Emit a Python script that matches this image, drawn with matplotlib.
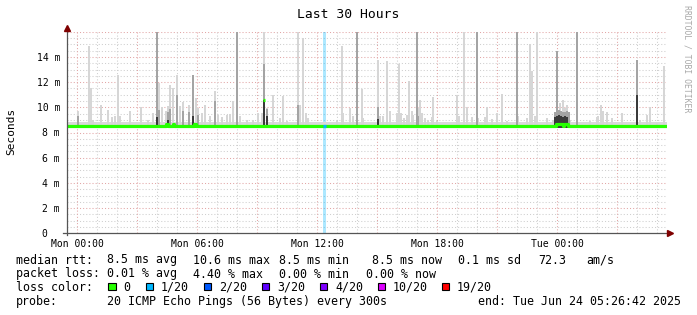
import numpy as np
import matplotlib
matplotlib.use("Agg")
import matplotlib.pyplot as plt
from matplotlib.patches import Rectangle

# ---------------- data (hours relative to Mon 00:00, values in ms) ----------------
x_start, x_end = -0.53, 29.47
y_max = 16.0
median_base = 8.5
smoke_lo, smoke_hi = 8.35, 8.85

light_h = [0.02, 0.6, 0.7, 0.8, 1.18, 1.52, 1.72, 1.88, 2.02, 2.13, 2.63, 3.18, 3.52, 3.77, 3.97,
           4.1, 4.22, 4.43, 4.55, 4.64, 4.8, 4.97, 5.13, 5.3, 5.58, 5.8, 5.92, 6.05, 6.22, 6.385,
           6.635, 6.885, 7.05, 7.22, 7.47, 7.635, 7.8, 7.97, 8.135, 8.47, 8.8, 9.05, 9.22, 9.35,
           9.47, 9.8, 10.135, 10.3, 10.47, 11.05, 11.135, 11.3, 11.42, 11.55, 12.97, 13.22, 13.3,
           13.635, 13.8, 13.97, 14.22, 14.3, 14.885, 15.02, 15.135, 15.3, 15.47, 15.635, 15.97,
           16.1, 16.185, 16.35, 16.47, 16.6, 16.72, 16.8, 16.97, 17.05, 17.135, 17.25, 17.385,
           17.55, 17.72, 17.8, 17.97, 18.97, 19.085, 19.35, 19.47, 19.72, 19.97, 20.05, 20.385,
           20.47, 20.72, 20.97, 21.22, 21.47, 21.97, 22.05, 22.47, 22.635, 22.72, 22.885, 22.97,
           23.47, 23.8, 24.0, 24.135, 24.3, 24.385, 24.47, 24.635, 24.97, 25.635, 25.97, 26.05,
           26.185, 26.3, 26.47, 26.72, 27.22, 27.97, 28.135, 28.47, 28.635, 28.97, 29.35]
light_v = [9.68, 14.84, 11.5, 9.0, 10.2, 9.82, 9.2, 9.28, 12.6, 9.28, 9.68, 10.02, 9.02, 9.55, 16.0,
           11.9, 10.0, 9.68, 10.07, 11.8, 11.5, 12.6, 10.07, 10.42, 10.2, 12.6, 10.74, 9.94, 9.55, 10.2,
           9.28, 11.27, 9.42, 9.2, 9.42, 9.47, 10.47, 16.0, 9.28, 9.02, 9.02, 9.55, 9.55, 16.0,
           9.94, 11.0, 9.15, 10.87, 8.89, 16.0, 10.2, 15.5, 9.55, 9.15, 8.89, 14.84, 9.55,
           9.94, 9.28, 16.0, 11.48, 9.15, 8.76, 13.78, 9.28, 9.28, 13.65, 9.68, 9.55,
           13.44, 9.55, 9.15, 9.36, 12.06, 9.68, 9.36, 16.0, 9.94, 10.6, 9.55, 9.15,
           9.02, 9.2, 10.82, 8.89, 11.0, 9.28, 16.0, 10.0, 9.2, 16.0, 9.15, 9.2,
           10.0, 9.1, 9.55, 11.05, 8.89, 16.0, 9.28, 9.15, 15.0, 12.85, 9.28, 16.0,
           9.15, 9.02, 14.44, 10.33, 10.6, 9.94, 10.2, 9.02, 16.0, 8.89, 9.2, 9.28,
           10.2, 9.68, 9.63, 9.15, 9.55, 13.78, 9.02, 9.36, 10.02, 8.76, 13.25]

med_h = [0.02, 3.97, 4.1, 4.52, 4.64, 4.97, 5.3, 5.58, 5.8, 6.05, 6.885, 7.97, 9.35, 9.47, 11.05,
         13.97, 15.02, 16.97, 17.05, 19.97, 21.97, 23.9, 24.0, 24.1, 24.2, 24.3, 24.4, 24.5,
         24.6, 24.97, 27.97]
med_v = [9.3, 16.0, 9.8, 9.6, 9.9, 11.0, 9.7, 9.6, 12.6, 9.4, 10.5, 16.0, 13.4, 9.9, 10.2,
         16.0, 10.0, 16.0, 9.3, 16.0, 16.0, 9.6, 14.44, 9.8, 9.7, 9.6, 9.6, 9.7,
         9.6, 16.0, 13.78]

dark_h = [3.97, 4.52, 5.8, 9.35, 9.47, 15.02, 23.9, 24.0, 24.1, 24.2, 24.3, 24.4, 24.5, 27.97]
dark_v = [9.2, 9.0, 9.3, 10.6, 9.3, 9.1, 9.2, 9.3, 9.4, 9.3, 9.2, 9.3, 9.2, 11.0]

median_bump_h = [4.5, 4.8, 5.9, 23.95, 24.05, 24.15, 24.25, 24.35, 24.45]
median_bump_v = [8.65, 8.7, 8.65, 8.7, 8.7, 8.7, 8.7, 8.7, 8.7]
median_peak_h, median_peak_v = 9.35, 10.6

loss_h = [12.35]

ytick_vals = [0, 2, 4, 6, 8, 10, 12, 14]
ytick_labels = ["0  ", "2 m", "4 m", "6 m", "8 m", "10 m", "12 m", "14 m"]
xtick_vals = [0, 6, 12, 18, 24]
xtick_labels = ["Mon 00:00", "Mon 06:00", "Mon 12:00", "Mon 18:00", "Tue 00:00"]

loss_labels = ["0", "1/20", "2/20", "3/20", "4/20", "10/20", "19/20"]
loss_colors = ["#26ff00", "#00b8ff", "#0059ff", "#5e00ff", "#7e00ff", "#dd00ff", "#ff0000"]

rtt_items = ["8.5 ms avg", "10.6 ms max", "8.5 ms min", "8.5 ms now", "0.1 ms sd", "72.3", "am/s"]
loss_items = ["0.01 % avg", "4.40 % max", "0.00 % min", "0.00 % now"]

# ---------------- layout ----------------
W, H = 697, 315
MONO = "DejaVu Sans Mono"
fig = plt.figure(figsize=(W / 100, H / 100), dpi=100)
fig.patch.set_facecolor("white")

def fx(px):
    return px / W

def fy(py):
    return 1 - py / H

ax_l, ax_r, ax_t, ax_b = 66.7, 666.7, 31.7, 233.3
ax = fig.add_axes([fx(ax_l), fy(ax_b), (ax_r - ax_l) / W, (ax_b - ax_t) / H])
ax.set_xlim(x_start, x_end)
ax.set_ylim(0, y_max)
for s in ax.spines.values():
    s.set_visible(False)

minor_c = "#cfcfcf"
major_c = "#e2a6a6"
for yv in np.arange(0.5, y_max + 0.01, 0.5):
    c = major_c if abs(yv % 2) < 1e-6 else minor_c
    ax.axhline(yv, color=c, lw=0.75, ls=(0, (1, 2)), zorder=1)
for hv in range(0, 30):
    c = major_c if hv % 3 == 0 else minor_c
    ax.axvline(hv, color=c, lw=0.75, ls=(0, (1, 2)), zorder=1)

for lh in loss_h:
    ax.axvspan(lh - 0.075, lh + 0.075, color="#00b8ff", alpha=0.32, lw=0, zorder=2)

# smoke
ax.fill_between([x_start, x_end], smoke_lo, smoke_hi, color="#dadada", lw=0, zorder=3)
bw = 0.1
ax.bar(light_h, np.array(light_v) - smoke_lo, bottom=smoke_lo, width=bw, color="#d6d6d6", lw=0, zorder=4)
ax.bar(med_h, np.array(med_v) - smoke_lo, bottom=smoke_lo, width=0.11, color="#a4a4a4", lw=0, zorder=5)
ax.bar(dark_h, np.array(dark_v) - smoke_lo, bottom=smoke_lo, width=0.11, color="#3a3a3a", lw=0, zorder=6)

# median
t = np.arange(x_start, x_end + 1e-9, 1 / 12)
med = np.full_like(t, median_base)
for bh, bv in zip(median_bump_h, median_bump_v):
    med[np.argmin(np.abs(t - bh))] = bv
ax.step(t, med, where="mid", color=loss_colors[0], lw=2.3, zorder=7, solid_capstyle="butt")
ax.hlines(median_peak_v, median_peak_h - 0.05, median_peak_h + 0.05, color=loss_colors[0], lw=2.3, zorder=8)
for lh in loss_h:
    ax.hlines(median_base, lh - 0.06, lh + 0.06, color=loss_colors[1], lw=2.3, zorder=8)

# axes lines + arrows
axis_c = "#555555"
arrow_c = "#7f0000"
ax.plot([0, 0], [-0.01, 1.015], transform=ax.transAxes, color=axis_c, lw=0.9, clip_on=False, zorder=9)
ax.plot([-0.006, 1.003], [0, 0], transform=ax.transAxes, color=axis_c, lw=0.9, clip_on=False, zorder=9)
ax.plot([0], [1.02], transform=ax.transAxes, marker="^", ms=4, color=arrow_c, clip_on=False, zorder=10)
ax.plot([1.006], [0], transform=ax.transAxes, marker=">", ms=4, color=arrow_c, clip_on=False, zorder=10)

ax.set_yticks(ytick_vals)
ax.set_yticklabels(ytick_labels, family=MONO, fontsize=7)
ax.set_xticks(xtick_vals)
ax.set_xticklabels(xtick_labels, family=MONO, fontsize=7)
ax.tick_params(axis="y", length=0, pad=4.8)
ax.tick_params(axis="x", length=0, pad=4.0)

# texts
fig.text(fx(348), fy(14), "Last 30 Hours", ha="center", va="center", fontsize=9.4, family=MONO)
fig.text(fx(11.5), fy(131.5), "Seconds", rotation=90, ha="center", va="center", fontsize=8, family=MONO)
fig.text(fx(686.5), fy(5), "RRDTOOL / TOBI OETIKER", rotation=-90, ha="center", va="top",
         fontsize=5.9, family=MONO, color="#a8a8a8")

LF = 8.4
rows = [263.5, 277.5, 291.0, 305.0]
fig.text(fx(16), fy(rows[0]), "median rtt:", fontsize=LF, family=MONO, va="baseline")
for txt, xp in zip(rtt_items, [107.3, 192.7, 279.3, 372.3, 458.3, 538.3, 586.7]):
    fig.text(fx(xp), fy(rows[0]), txt, fontsize=LF, family=MONO, va="baseline")
fig.text(fx(16), fy(rows[1]), "packet loss:", fontsize=LF, family=MONO, va="baseline")
for txt, xp in zip(loss_items, [107.3, 192.7, 279.3, 365.7]):
    fig.text(fx(xp), fy(rows[1]), txt, fontsize=LF, family=MONO, va="baseline")
fig.text(fx(16), fy(rows[2]), "loss color:", fontsize=LF, family=MONO, va="baseline")
sq_x = [108.3, 145.7, 203.7, 262.0, 320.0, 377.7, 442.0]
for lab, col, xp in zip(loss_labels, loss_colors, sq_x):
    fig.add_artist(Rectangle((fx(xp), fy(290.0)), 7.3 / W, 7.3 / H, facecolor=col,
                             edgecolor="black", lw=0.8, transform=fig.transFigure))
    fig.text(fx(xp + 15), fy(rows[2]), lab, fontsize=LF, family=MONO, va="baseline")
fig.text(fx(16), fy(rows[3]), "probe:", fontsize=LF, family=MONO, va="baseline")
fig.text(fx(107.3), fy(rows[3]), "20 ICMP Echo Pings (56 Bytes) every 300s", fontsize=LF, family=MONO, va="baseline")
fig.text(fx(680.5), fy(rows[3]), "end: Tue Jun 24 05:26:42 2025", fontsize=LF, family=MONO, va="baseline", ha="right")

fig.savefig("out.png", dpi=100, facecolor="white")
